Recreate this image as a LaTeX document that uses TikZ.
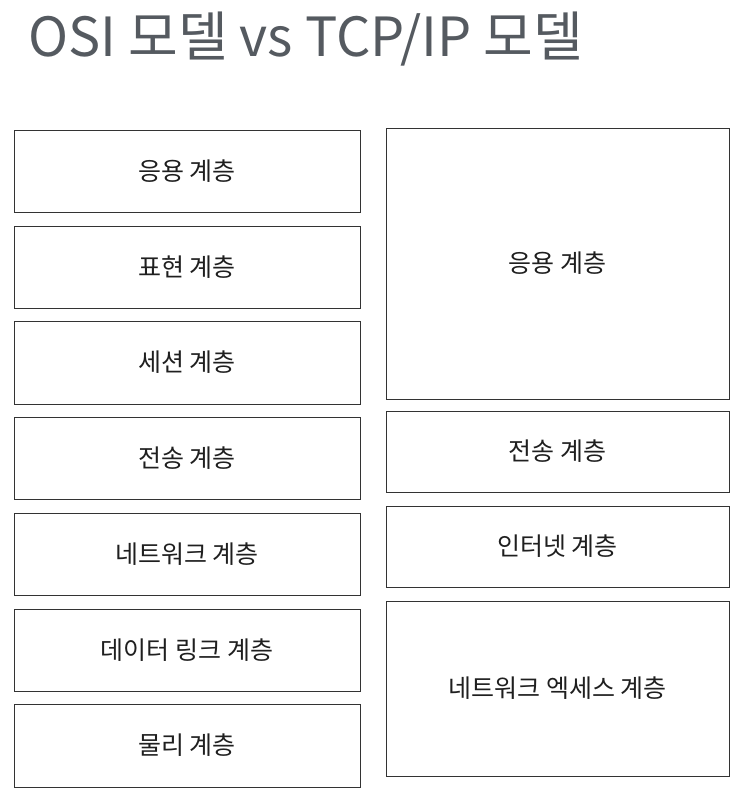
\documentclass[tikz,border=0pt]{standalone}
\usepackage{fontspec}
\setmainfont{Noto Sans CJK KR}
\definecolor{titlegray}{HTML}{555A60}
\definecolor{boxline}{HTML}{333333}
\begin{document}
\begin{tikzpicture}[x=1pt,y=-1pt,
  layer/.style={draw=boxline,line width=1pt,inner sep=0pt},
  lbl/.style={font=\fontsize{25}{30}\selectfont,text=black!88}]
\useasboundingbox (0,0) rectangle (742,808);
\node[anchor=west,text=titlegray,font=\fontsize{54}{62}\selectfont,inner sep=0pt] (title) at (28,39) {OSI 모델 vs TCP/IP 모델};
% OSI
\draw[layer] (14,130) rectangle (360,212) node[midway,lbl] (o7) {응용 계층};
\draw[layer] (14,226) rectangle (360,308) node[midway,lbl] (o6) {표현 계층};
\draw[layer] (14,321) rectangle (360,404) node[midway,lbl] (o5) {세션 계층};
\draw[layer] (14,417) rectangle (360,499) node[midway,lbl] (o4) {전송 계층};
\draw[layer] (14,513) rectangle (360,595) node[midway,lbl] (o3) {네트워크 계층};
\draw[layer] (14,609) rectangle (360,691) node[midway,lbl] (o2) {데이터 링크 계층};
\draw[layer] (14,704) rectangle (360,787) node[midway,lbl] (o1) {물리 계층};
% TCP/IP
\draw[layer] (386,128) rectangle (729,399) node[midway,lbl] (t4) {응용 계층};
\draw[layer] (386,411) rectangle (729,492) node[midway,lbl] (t3) {전송 계층};
\draw[layer] (386,506) rectangle (729,587) node[midway,lbl] (t2) {인터넷 계층};
\draw[layer] (386,601) rectangle (729,776) node[midway,lbl] (t1) {네트워크 엑세스 계층};
\end{tikzpicture}
\end{document}
